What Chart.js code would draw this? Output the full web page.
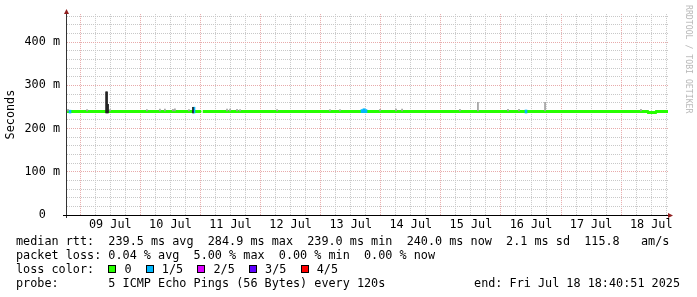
<!DOCTYPE html>
<html>
<head>
<meta charset="utf-8">
<script src="https://cdn.jsdelivr.net/npm/chart.js@4.4.1/dist/chart.umd.min.js"></script>
<style>
  body { margin: 0; background: #fff; }
  #wrap { position: relative; width: 697px; height: 297px; overflow: hidden; background: #fff; }
  #pingChart { position: absolute; left: 0; top: 0; }
  .row { position: absolute; left: 16px; margin: 0; font: 11.8px 'DejaVu Sans Mono', monospace; line-height: 14px; white-space: pre; color: #000; }
  .sw { display: inline-block; width: 6px; height: 6px; border: 1px solid #000; vertical-align: 0px; margin-right: 1px; }
  #credit { position: absolute; left: 693px; top: 5px; font: 8.2px 'DejaVu Sans Mono', monospace; line-height: 9px; color: #b8b8b8; white-space: pre; transform: rotate(90deg); transform-origin: 0 0; }
</style>
</head>
<body>
<div id="wrap">
  <canvas id="pingChart" width="697" height="297"></canvas>
  <div id="credit">RRDTOOL / TOBI OETIKER</div>
  <div class="row" style="top:234px">median rtt:  239.5 ms avg  284.9 ms max  239.0 ms min  240.0 ms now  2.1 ms sd  115.8   am/s</div>
  <div class="row" style="top:248px">packet loss: 0.04 % avg  5.00 % max  0.00 % min  0.00 % now</div>
  <div class="row" style="top:262px">loss color:  <span class="sw" style="background:#26ff00"></span> 0  <span class="sw" style="background:#00b8ff"></span> 1/5  <span class="sw" style="background:#dd00ff"></span> 2/5  <span class="sw" style="background:#5e00ff"></span> 3/5  <span class="sw" style="background:#ff0000"></span> 4/5</div>
  <div class="row" style="top:276px">probe:       5 ICMP Echo Pings (56 Bytes) every 120s</div>
  <div class="row" style="top:276px; left:auto; right:17px">end: Fri Jul 18 18:40:51 2025</div>
</div>
<script>
// hours are counted from 09 Jul 00:00
const xMinHour = -5.3;
const xMaxHour = 234.7;
const dayLabels = ['09 Jul', '10 Jul', '11 Jul', '12 Jul', '13 Jul', '14 Jul', '15 Jul', '16 Jul', '17 Jul', '18 Jul'];

// median rtt (ms), null = no data
const medianHours = [-5.3, 48.3, 48.6, 48.9, 226.6, 226.8, 229.8, 230.0, 234.7];
const medianMs = [239.5, 239.5, null, 239.5, 239.5, 237.5, 237.5, 239.5, 239.5];

// light smoke above the median
const smokeHours = [-4.9, 2.7, 11.9, 26.6, 31.8, 33.8, 37.0, 37.8, 43.4, 58.6, 59.8, 62.6, 63.8, 78.6, 99.7, 103.7, 119.7, 126.1, 128.5, 151.6, 158.8, 170.8, 175.2, 185.6, 223.9];
const smokeLowMs = [241, 241, 241, 241, 241, 241, 241, 241, 241, 241, 241, 241, 241, 241, 241, 241, 241, 241, 241, 241, 241, 241, 241, 241, 241];
const smokeHighMs = [244.5, 244, 244, 244, 245, 245, 244.5, 246, 244, 245, 245, 244.5, 244, 244, 244, 244, 244.5, 245, 245, 244.5, 261, 244.5, 244.5, 261, 244.5];

// dark smoke spikes
const spikeHours = [10.3, 10.7, 11.1, 45.0];
const spikeLowMs = [236, 236, 236, 236];
const spikeHighMs = [284.9, 284.9, 256, 249];

// samples with 1/5 loss
const lossHours = [-4.1, 45.4, 112.5, 113.3, 114.1, 178.0];
const lossLowMs = [236, 236, 237, 237, 237, 236];
const lossHighMs = [242.5, 249.5, 244, 246, 244, 243];

const minorGrid = 'rgb(200, 200, 200)';
const majorGrid = 'rgb(232, 170, 170)';
const monoFont = { family: "'DejaVu Sans Mono', monospace", size: 11.8 };

const rrdFrame = {
  id: 'rrdFrame',
  afterDraw(chart) {
    const { ctx, chartArea: a } = chart;
    ctx.save();
    ctx.strokeStyle = '#333';
    ctx.lineWidth = 1;
    ctx.beginPath();
    ctx.moveTo(a.left - 0.5, a.top - 1);
    ctx.lineTo(a.left - 0.5, a.bottom + 3);
    ctx.stroke();
    ctx.strokeStyle = '#000';
    ctx.beginPath();
    ctx.moveTo(a.left - 4, a.bottom + 0.5);
    ctx.lineTo(a.right + 1, a.bottom + 0.5);
    ctx.stroke();
    ctx.fillStyle = '#902020';
    ctx.beginPath();
    ctx.moveTo(a.left - 0.5, a.top - 5);
    ctx.lineTo(a.left - 3, a.top);
    ctx.lineTo(a.left + 2, a.top);
    ctx.closePath();
    ctx.fill();
    ctx.beginPath();
    ctx.moveTo(a.right + 5, a.bottom + 0.5);
    ctx.lineTo(a.right, a.bottom - 2);
    ctx.lineTo(a.right, a.bottom + 3);
    ctx.closePath();
    ctx.fill();
    ctx.restore();
  }
};

const floatBars = (hours, lows, highs) => hours.map((h, i) => ({ x: h, y: [lows[i], highs[i]] }));

new Chart(document.getElementById('pingChart'), {
  type: 'line',
  data: {
    datasets: [
      {
        type: 'bar',
        label: 'smoke',
        data: floatBars(smokeHours, smokeLowMs, smokeHighMs),
        backgroundColor: '#a0a0a0',
        barThickness: 1,
        grouped: false,
        order: 1,
      },
      {
        type: 'bar',
        label: 'spike',
        data: floatBars(spikeHours, spikeLowMs, spikeHighMs),
        backgroundColor: '#202020',
        barThickness: 1,
        grouped: false,
        order: 1,
      },
      {
        type: 'bar',
        label: '1/5',
        data: floatBars(lossHours, lossLowMs, lossHighMs),
        backgroundColor: '#00b8ff',
        barThickness: 2,
        grouped: false,
        order: 1,
      },
      {
        label: 'median rtt',
        data: medianHours.map((h, i) => ({ x: h, y: medianMs[i] })),
        borderColor: '#26ff00',
        borderWidth: 3,
        borderCapStyle: 'butt',
        pointRadius: 0,
        tension: 0,
        spanGaps: false,
        order: 2,
      },
    ],
  },
  options: {
    responsive: false,
    animation: false,
    events: [],
    layout: { padding: { left: 0, top: 14, right: 29, bottom: 62 } },
    plugins: { legend: { display: false }, tooltip: { enabled: false } },
    scales: {
      x: {
        type: 'linear',
        min: xMinHour,
        max: xMaxHour,
        offset: false,
        afterBuildTicks: (scale) => {
          const t = [];
          for (let h = 0; h <= scale.max; h += 6) t.push({ value: h });
          scale.ticks = t;
        },
        afterFit: (scale) => { scale.height = 20; },
        grid: {
          color: (c) => (c.tick && c.tick.value % 24 === 0 ? majorGrid : minorGrid),
          lineWidth: 1,
          drawTicks: false,
          offset: false,
        },
        border: { display: false, dash: [1, 1] },
        ticks: {
          autoSkip: false,
          maxRotation: 0,
          minRotation: 0,
          padding: 3,
          color: '#000',
          font: monoFont,
          callback: (v) => (v % 24 === 12 ? dayLabels[(v - 12) / 24] : ''),
        },
      },
      y: {
        min: 0,
        max: 465,
        afterFit: (scale) => { scale.width = 67; },
        grid: {
          color: (c) => (c.tick && c.tick.value % 100 === 0 ? majorGrid : minorGrid),
          lineWidth: 1,
          drawTicks: false,
        },
        border: { display: false, dash: [1, 1] },
        ticks: {
          stepSize: 20,
          includeBounds: false,
          autoSkip: false,
          padding: 7,
          color: '#000',
          font: monoFont,
          callback: (v) => (v % 100 === 0 ? (v === 0 ? '0  ' : v + ' m') : ''),
        },
        title: {
          display: true,
          text: 'Seconds',
          color: '#000',
          font: monoFont,
          padding: { top: 4, bottom: 0 },
        },
      },
    },
  },
  plugins: [rrdFrame],
});
</script>
</body>
</html>
